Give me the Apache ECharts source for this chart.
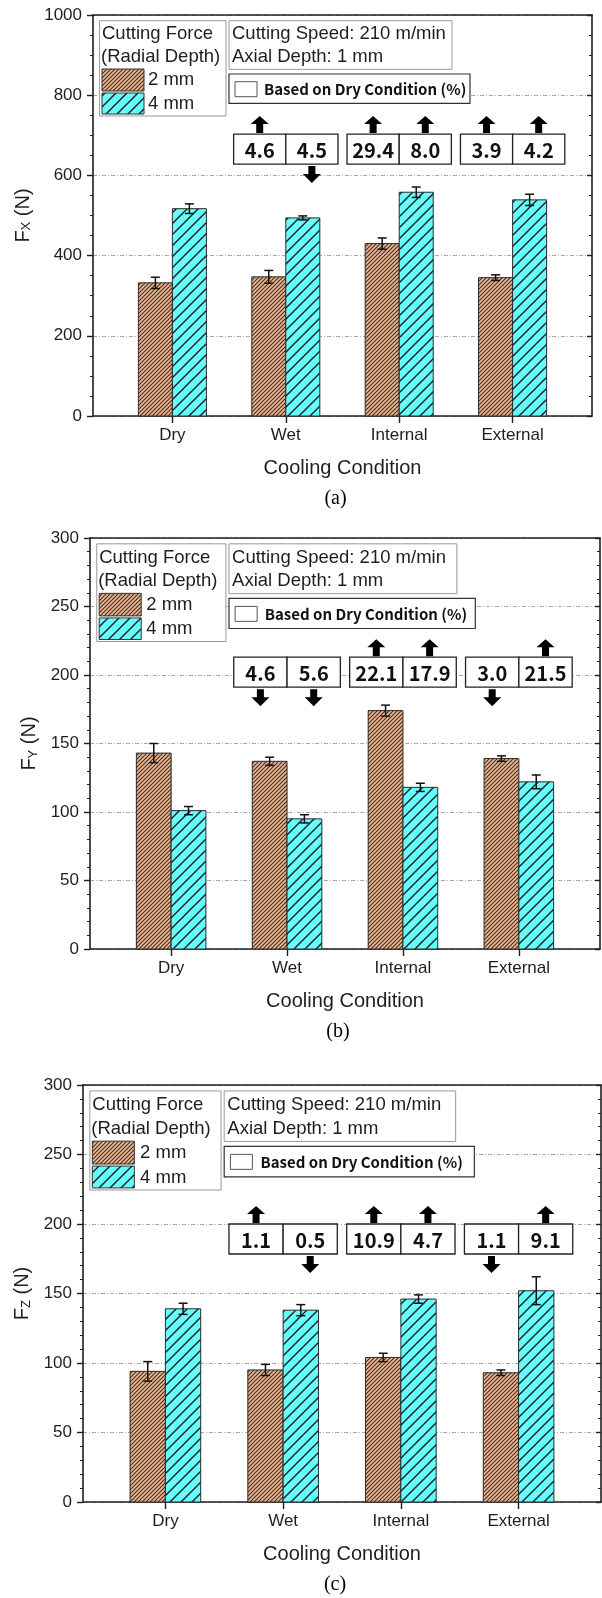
<!DOCTYPE html>
<html>
<head>
<meta charset="utf-8">
<script src="https://cdn.jsdelivr.net/npm/echarts@6/dist/echarts.min.js"></script>
<style>
  html, body { margin: 0; padding: 0; background: #fff; }
  #chart { width: 602px; height: 1598px; }
</style>
</head>
<body>
<div id="chart"></div>
<script>
// categories sit at x = 1..4 on a value axis running 0.3 .. 4.7 (Origin style)
const categories = ['Dry', 'Wet', 'Internal', 'External']
const catPos = [1, 2, 3, 4]

// F_X (N)
const fx2 = [332, 347, 430, 345]
const fx2Err = [14, 16, 14, 7]
const fx4 = [517, 494, 558, 539]
const fx4Err = [12, 5, 13, 14]
// F_Y (N)
const fy2 = [143, 137, 174, 139]
const fy2Err = [7, 3, 4, 2]
const fy4 = [101, 95, 118, 122]
const fy4Err = [3, 3, 3, 5]
// F_Z (N)
const fz2 = [94, 95, 104, 93]
const fz2Err = [7, 4, 3, 2]
const fz4 = [139, 138, 146, 152]
const fz4Err = [4, 4, 3, 10]

// change vs Dry (%), for Wet / Internal / External; sign = arrow direction
const fxChange2 = [4.6, 29.4, 3.9]
const fxChange4 = [-4.5, 8.0, 4.2]
const fyChange2 = [-4.6, 22.1, -3.0]
const fyChange4 = [-5.6, 17.9, 21.5]
const fzChange2 = [1.1, 10.9, -1.1]
const fzChange4 = [-0.5, 4.7, 9.1]

const seriesNames = ['2 mm', '4 mm']

const panels = [
  { grid: { left: 93, top: 15, width: 499, height: 401 }, max: 1000, step: 200, minor: 4, sub: 'X',
    v2: fx2, e2: fx2Err, v4: fx4, e4: fx4Err, c2: fxChange2, c4: fxChange4, boxTop: 703, caption: '(a)' },
  { grid: { left: 90, top: 538, width: 510, height: 411 }, max: 300, step: 50, minor: 5, sub: 'Y',
    v2: fy2, e2: fy2Err, v4: fy4, e4: fy4Err, c2: fyChange2, c4: fyChange4, boxTop: 213, caption: '(b)' },
  { grid: { left: 83, top: 1085, width: 518, height: 417 }, max: 300, step: 50, minor: 5, sub: 'Z',
    v2: fz2, e2: fz2Err, v4: fz4, e4: fz4Err, c2: fzChange2, c4: fzChange4, boxTop: 200, caption: '(c)' },
]

const INK = '#1e1e1e'
const SANS = 'Liberation Sans'
const barW = 0.3   // x units
const boxW = 0.46  // x units

function hatch(bg, line, step, width) {
  const c = document.createElement('canvas')
  c.width = step
  c.height = step
  const g = c.getContext('2d')
  g.fillStyle = bg
  g.fillRect(0, 0, step, step)
  g.strokeStyle = line
  g.lineWidth = width
  g.beginPath()
  g.moveTo(-1, step + 1); g.lineTo(step + 1, -1)
  g.moveTo(-1, 1); g.lineTo(1, -1)
  g.moveTo(step - 1, step + 1); g.lineTo(step + 1, step - 1)
  g.stroke()
  return { image: c, repeat: 'repeat' }
}
const pat2 = hatch('#F2B68E', '#3c3028', 4, 1.1)
const pat4 = hatch('#66FFFF', '#1a1a1a', 11, 1.4)

function barSeries(gi, name, vals, side, fill) {
  return {
    type: 'custom', name, xAxisIndex: 2 * gi, yAxisIndex: 2 * gi, z: 3,
    data: vals.map((v, i) => [catPos[i], v]),
    renderItem(params, api) {
      const x = api.value(0)
      const a = api.coord([side < 0 ? x - barW : x, api.value(1)])
      const b = api.coord([side < 0 ? x : x + barW, 0])
      return {
        type: 'rect',
        shape: { x: a[0], y: a[1], width: b[0] - a[0], height: b[1] - a[1] },
        style: { fill, stroke: '#2a2a2a', lineWidth: 1 },
      }
    },
  }
}

function errorSeries(gi, vals, errs, side) {
  return {
    type: 'custom', xAxisIndex: 2 * gi, yAxisIndex: 2 * gi, z: 5,
    data: vals.map((v, i) => [catPos[i] + side * barW / 2, v - errs[i], v + errs[i]]),
    renderItem(params, api) {
      const lo = api.coord([api.value(0), api.value(1)])
      const hi = api.coord([api.value(0), api.value(2)])
      const w = 4.5
      const st = { stroke: '#111', lineWidth: 1.5 }
      return {
        type: 'group',
        children: [
          { type: 'line', shape: { x1: lo[0], y1: lo[1], x2: hi[0], y2: hi[1] }, style: st },
          { type: 'line', shape: { x1: lo[0] - w, y1: lo[1], x2: lo[0] + w, y2: lo[1] }, style: st },
          { type: 'line', shape: { x1: hi[0] - w, y1: hi[1], x2: hi[0] + w, y2: hi[1] }, style: st },
        ],
      }
    },
  }
}

function upArrow(cx, yb) {
  return { type: 'polygon', shape: { points: [
    [cx, yb - 17], [cx + 9, yb - 9], [cx + 3.5, yb - 9], [cx + 3.5, yb],
    [cx - 3.5, yb], [cx - 3.5, yb - 9], [cx - 9, yb - 9]] }, style: { fill: '#000' } }
}
function downArrow(cx, yt) {
  return { type: 'polygon', shape: { points: [
    [cx - 3.5, yt], [cx + 3.5, yt], [cx + 3.5, yt + 8], [cx + 9, yt + 8],
    [cx, yt + 17], [cx - 9, yt + 8], [cx - 3.5, yt + 8]] }, style: { fill: '#000' } }
}

function changeSeries(gi, changes, side, boxTop) {
  return {
    type: 'custom', xAxisIndex: 2 * gi, yAxisIndex: 2 * gi, z: 6, clip: false,
    data: changes.map((c, i) => [catPos[i + 1], c]),
    renderItem(params, api) {
      const x = api.value(0), pct = api.value(1)
      const l = api.coord([side < 0 ? x - boxW : x, boxTop])
      const r = api.coord([side < 0 ? x : x + boxW, boxTop])
      const h = 30
      const cx = (l[0] + r[0]) / 2
      return {
        type: 'group',
        children: [
          { type: 'rect', shape: { x: l[0], y: l[1], width: r[0] - l[0], height: h },
            style: { fill: '#fff', stroke: '#222', lineWidth: 1.3 } },
          { type: 'text', x: cx, y: l[1] + h / 2 + 1,
            style: { text: Math.abs(pct).toFixed(1), align: 'center', verticalAlign: 'middle',
              font: 'bold 20px "Noto Sans CJK KR"', fill: '#111' } },
          pct >= 0 ? upArrow(cx, l[1] - 1) : downArrow(cx, l[1] + h + 2),
        ],
      }
    },
  }
}

function txt(x, y, text, size, extra) {
  return Object.assign({ type: 'text', x, y, z: 20,
    style: Object.assign({ text, fill: INK, font: size + 'px "' + SANS + '"', verticalAlign: 'middle' }, extra || {}) })
}

function panelGraphics(p) {
  const L = p.grid.left, T = p.grid.top
  const sx = p.grid.width / 499, sy = p.grid.height / 401
  const X = v => L + v * sx, Y = v => T + v * sy
  const box = (x, y, w, h, stroke, lw) => ({ type: 'rect', z: 19,
    shape: { x: X(x), y: Y(y), width: w * sx, height: h * sy },
    style: { fill: '#fff', stroke, lineWidth: lw } })
  return [
    box(6.6, 5.7, 126.4, 95.3, '#999', 1),
    txt(X(9), Y(19), 'Cutting Force', 18.5),
    txt(X(8), Y(42), '(Radial Depth)', 18.5),
    { type: 'rect', z: 20, shape: { x: X(9), y: Y(54), width: 42, height: 22 * sy },
      style: { fill: pat2, stroke: '#333', lineWidth: 1 } },
    txt(X(55), Y(65), seriesNames[0], 18.5),
    { type: 'rect', z: 20, shape: { x: X(9), y: Y(78), width: 42, height: 21 * sy },
      style: { fill: pat4, stroke: '#333', lineWidth: 1 } },
    txt(X(55), Y(89), seriesNames[1], 18.5),
    box(136, 5.7, 223, 48.6, '#999', 1),
    txt(X(139), Y(19), 'Cutting Speed: 210 m/min', 18.5),
    txt(X(139), Y(42), 'Axial Depth: 1 mm', 18.5),
    box(136, 59, 241, 29.3, '#333', 1.2),
    { type: 'rect', z: 20, shape: { x: X(142), y: Y(66.7), width: 22, height: 15 },
      style: { fill: '#fff', stroke: '#555', lineWidth: 1 } },
    { type: 'text', x: X(171), y: Y(74), z: 20,
      style: { text: 'Based on Dry Condition (%)', fill: '#111', verticalAlign: 'middle',
        font: 'bold 15px "Noto Sans CJK KR"' } },
    { type: 'text', x: L + p.grid.width / 2 - 7, y: T + p.grid.height + 83, z: 20,
      style: { text: p.caption, fill: '#000', align: 'center', verticalAlign: 'middle',
        font: '20px "Liberation Serif"' } },
  ]
}

const grid = [], xAxis = [], yAxis = [], series = [], graphic = []
panels.forEach((p, gi) => {
  grid.push(Object.assign({ containLabel: false }, p.grid))
  xAxis.push({
    gridIndex: gi, type: 'value', min: 0.3, max: 4.7, position: 'bottom',
    name: 'Cooling Condition', nameLocation: 'middle', nameGap: 42,
    nameTextStyle: { fontSize: 20, fontFamily: SANS, color: INK },
    axisLine: { show: true, onZero: false, lineStyle: { color: INK, width: 1.6 } },
    axisTick: { show: true, length: 7, customValues: catPos, lineStyle: { color: INK, width: 1.4 } },
    axisLabel: { customValues: catPos, formatter: v => categories[Math.round(v) - 1], fontSize: 17,
      fontFamily: SANS, color: INK, margin: 11 },
    splitLine: { show: false },
  })
  xAxis.push({
    gridIndex: gi, type: 'value', min: 0.3, max: 4.7, position: 'top',
    axisLine: { show: true, onZero: false, lineStyle: { color: INK, width: 1.6 } },
    axisTick: { show: false }, axisLabel: { show: false }, splitLine: { show: false },
  })
  yAxis.push({
    gridIndex: gi, type: 'value', min: 0, max: p.max, interval: p.step, position: 'left',
    name: '{m|F}{s|' + p.sub + '}{m| (N)}', nameLocation: 'middle', nameGap: 49, nameRotate: 90,
    nameTextStyle: { rich: {
      m: { fontSize: 20, fontFamily: SANS, color: INK, lineHeight: 22, verticalAlign: 'bottom' },
      s: { fontSize: 13, fontFamily: SANS, color: INK, lineHeight: 6, verticalAlign: 'bottom' },
    } },
    axisLine: { show: true, onZero: false, lineStyle: { color: INK, width: 1.6 } },
    axisTick: { show: true, length: 6, lineStyle: { color: INK, width: 1.4 } },
    minorTick: { show: true, splitNumber: p.minor, length: 3, lineStyle: { color: INK, width: 1 } },
    axisLabel: { fontSize: 17, fontFamily: SANS, color: INK, margin: 11, formatter: v => String(v) },
    splitLine: { show: true, lineStyle: { color: '#a8a8a8', width: 1, type: [4, 2, 1, 2] } },
  })
  yAxis.push({
    gridIndex: gi, type: 'value', min: 0, max: p.max, interval: p.step, position: 'right',
    axisLine: { show: true, onZero: false, lineStyle: { color: INK, width: 1.6 } },
    axisTick: { show: true, inside: true, length: 5, lineStyle: { color: INK, width: 1.4 } },
    minorTick: { show: true, splitNumber: p.minor, length: 3, lineStyle: { color: INK, width: 1 } },
    axisLabel: { show: false }, splitLine: { show: false },
  })
  series.push(barSeries(gi, seriesNames[0], p.v2, -1, pat2))
  series.push(barSeries(gi, seriesNames[1], p.v4, 1, pat4))
  series.push(errorSeries(gi, p.v2, p.e2, -1))
  series.push(errorSeries(gi, p.v4, p.e4, 1))
  series.push(changeSeries(gi, p.c2, -1, p.boxTop))
  series.push(changeSeries(gi, p.c4, 1, p.boxTop))
  graphic.push(...panelGraphics(p))
})

const chart = echarts.init(document.getElementById('chart'))
chart.setOption({
  animation: false,
  backgroundColor: '#fff',
  grid, xAxis, yAxis, series, graphic,
})
</script>
</body>
</html>
